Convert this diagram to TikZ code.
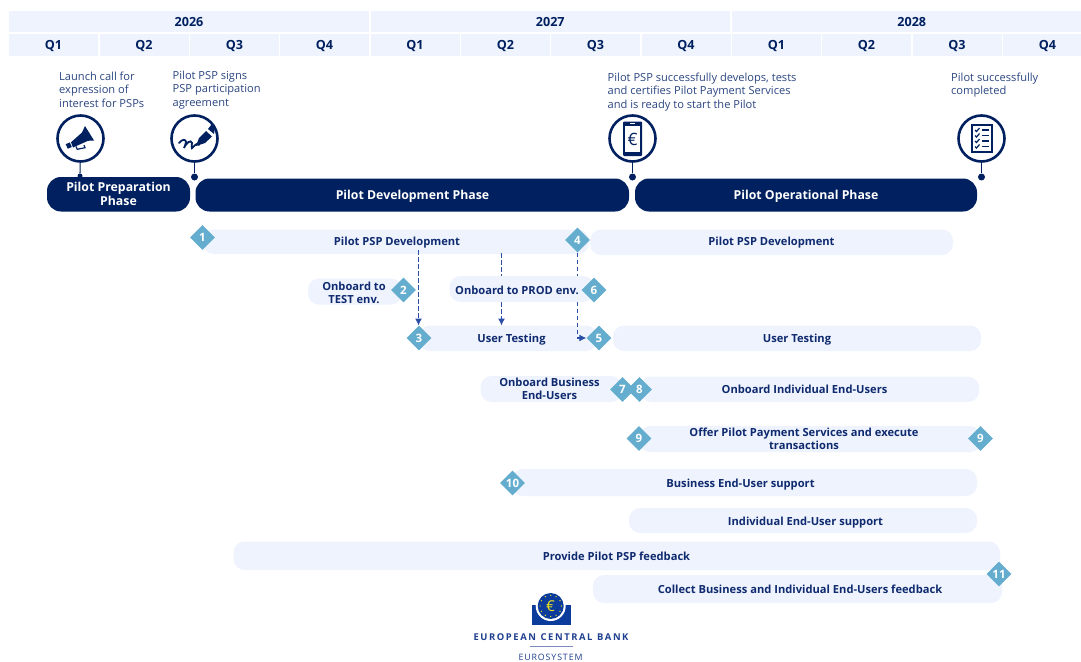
\documentclass[tikz,border=0pt]{standalone}
\usepackage{fontspec}
\setmainfont{Open Sans}
\usetikzlibrary{arrows.meta,shapes.geometric}
\definecolor{navy}{HTML}{00205F}
\definecolor{pale}{HTML}{EEF3FE}
\definecolor{teal}{HTML}{65ADCF}
\definecolor{lbl}{HTML}{0F2A6E}
\definecolor{body}{HTML}{2B4681}
\definecolor{dsh}{HTML}{2A4EA6}
\definecolor{ecb}{HTML}{0B3C9C}
\definecolor{ecbtxt}{HTML}{1F3F8F}
\definecolor{ecby}{HTML}{F2E21B}
\tikzset{
 cell/.style={inner sep=0,text=navy,font=\fontsize{12.6}{14}\selectfont\bfseries},
 note/.style={anchor=north west,align=left,inner sep=0,text=body,font=\fontsize{11.1}{13.4}\selectfont},
 bartext/.style={text=lbl,align=center,inner sep=0,font=\fontsize{11.15}{13}\selectfont\bfseries},
 phasetext/.style={text=white,align=center,inner sep=0,font=\fontsize{12.3}{14.5}\selectfont\bfseries},
 dia/.style={diamond,fill=teal,text=white,inner sep=0,minimum width=25pt,minimum height=25pt,font=\fontsize{11.5}{12}\selectfont\bfseries},
 ring/.style={circle,draw=navy,line width=2.6pt,fill=white,minimum size=46pt,inner sep=0},
 dot/.style={circle,fill=navy,minimum size=7pt,inner sep=0},
 stem/.style={draw=navy,line width=1.1pt},
 dep/.style={draw=dsh,line width=1.1pt,dash pattern=on 4.5pt off 2.5pt,-{Latex[length=7pt,width=7pt]}},
 logotext/.style={text=ecbtxt,inner sep=0},
}
\newcommand{\palebar}[5]{% name x0 x1 y0 y1
 \fill[pale,rounded corners=11pt] (#2,#4) rectangle (#3,#5);
 \coordinate (#1) at ({(#2+#3)/2},{(#4+#5)/2});}
\begin{document}
\begin{tikzpicture}[x=1pt,y=-1pt]
\useasboundingbox (0,0) rectangle (1081,661);
\clip (0,0) rectangle (1081,661);
\fill[white] (0,0) rectangle (1081,661);
% years
\foreach \n/\a/\b/\t in {y26/9/369/2026,y27/370.5/730/2027,y28/731.5/1092/2028}{
 \fill[pale] (\a,11) rectangle (\b,32);
 \node[cell] (\n) at ({(\a+\b)/2},22.3) {\t};}
% quarters
\foreach \n/\x/\t in {a/9/Q1,b/99.5/Q2,c/190/Q3,d/280/Q4,e/370.5/Q1,f/461/Q2,g/551/Q3,h/641.5/Q4,i/732/Q1,j/822/Q2,k/912.5/Q3,l/1003/Q4}{
 \fill[pale] (\x,34) rectangle ({\x+89},56);
 \node[cell] (q\n) at ({\x+44.5},45.8) {\t};}
% notes
\node[note] (n1) at (59,71.8) {Launch call for\\expression of\\interest for PSPs};
\node[note] (n2) at (172.5,70.8) {Pilot PSP signs\\PSP participation\\agreement};
\node[note] (n3) at (607.5,72.8) {Pilot PSP successfully develops, tests\\and certifies Pilot Payment Services\\and is ready to start the Pilot};
\node[note] (n4) at (951,72.8) {Pilot successfully\\completed};
% phases
\fill[navy,rounded corners=14pt] (47,177) rectangle (190,211.5);
\node[phasetext] (p1) at (118.5,194) {Pilot Preparation\\Phase};
\fill[navy,rounded corners=14pt] (195.5,178.5) rectangle (629,211.5);
\node[phasetext] (p2) at (412.5,196) {Pilot Development Phase};
\fill[navy,rounded corners=14pt] (635,178.5) rectangle (977,211.5);
\node[phasetext] (p3) at (806,196) {Pilot Operational Phase};
% milestones
\node[ring] (r1) at (80.5,138.5) {};
\node[ring] (r2) at (194.5,138.5) {};
\node[ring] (r3) at (632.5,138.5) {};
\node[ring] (r4) at (981.5,138.5) {};
\node[dot,minimum size=5pt] (d1) at (80,176) {};
\node[dot] (d2) at (194.5,177) {};
\node[dot] (d3) at (632.5,177) {};
\node[dot] (d4) at (981.5,177) {};
\foreach \i in {1,...,4} \draw[stem] (r\i) -- (d\i);
% icon: megaphone
\fill[navy] (71,142.3) -- (82,132.5) -- (85,126) -- (94,140.5) -- (88,140.8) -- (73,147.5) -- cycle;
\fill[navy] (65.7,144.2) -- (69.8,142.4) -- (71.8,147) -- (67.8,148.7) -- cycle;
\draw[navy,line width=1.2pt] (76,146.5) -- (77.3,149.3) -- (85,147.7) -- (84,145);
% icon: pen + signature
\draw[navy,line width=1.8pt,line cap=round] (179,143) .. controls (182,139) and (186,139) .. (186,142) .. controls (186,145) and (184,147) .. (184,148) .. controls (186,143) and (191,139) .. (192,143) .. controls (192,145) and (191,148) .. (192,148) .. controls (195,145) and (198,142) .. (199,145);
\fill[navy] (196,146) -- (199,138) -- (206,131) -- (212,136.5) -- (205,143) -- cycle;
\fill[navy] (208,129) -- (211.5,124.5) -- (215,127) -- (214,134) -- cycle;
% icon: phone
\fill[navy,rounded corners=1pt] (623,121.5) rectangle (642,156);
\fill[white] (625,125.5) rectangle (640,151.5);
\fill[white] (630,123) rectangle (635,124);
\node[text=navy,inner sep=0,font=\fontsize{17}{17}\selectfont] (euro) at (632.7,139) {€};
% icon: checklist
\fill[navy] (971,124) rectangle (992.5,152.5);
\fill[white] (973,126) rectangle (990.5,150.5);
\foreach \y in {130,135.5,141,146.5}{
 \draw[navy,line width=1.2pt] (975,\y) -- (976.5,{\y+1.5}) -- (979.5,{\y-2});
 \draw[navy,line width=1.4pt] (982,\y) -- (989,\y);}
% pale bars
\palebar{b1}{203}{589}{229.5}{254}
\palebar{b4}{590}{953}{229.5}{255}
\palebar{b2}{308}{402}{278.5}{304.5}
\palebar{b3}{419}{597}{325.5}{351}
\palebar{b5}{613}{981}{325.5}{351}
\palebar{b7}{480.5}{622}{376}{402}
\palebar{b8}{640}{979}{376.5}{402}
\palebar{b9}{639}{981}{426}{452}
\palebar{b10}{512}{977}{469}{496}
\palebar{b12}{629}{977}{508}{533}
\palebar{b13}{233.5}{1000}{541.5}{570}
\palebar{b14}{593}{1002}{575}{603}
% bar texts
\node[bartext] (t1) at (397,242.5) {Pilot PSP Development};
\node[bartext] (t4) at (771.5,243) {Pilot PSP Development};
\node[bartext] (t2) at (354,292.5) {Onboard to\\TEST env.};
\node[bartext] (t3) at (511.5,339.5) {User Testing};
\node[bartext] (t5) at (797,339.5) {User Testing};
\node[bartext] (t7) at (549.5,389.2) {Onboard Business\\End-Users};
\node[bartext] (t8) at (804.5,389.8) {Onboard Individual End-Users};
\node[bartext] (t9) at (804,439) {Offer Pilot Payment Services and execute\\transactions};
\node[bartext] (t10) at (740.5,484.5) {Business End-User support};
\node[bartext] (t12) at (805.5,522.5) {Individual End-User support};
\node[bartext] (t13) at (616.5,556) {Provide Pilot PSP feedback};
\node[bartext] (t14) at (800,589.5) {Collect Business and Individual End-Users feedback};
% diamonds
\node[dia] (m1) at (202.5,237.5) {1};
\node[dia] (m2) at (403.5,290) {2};
\node[dia] (m3) at (419,338) {3};
\node[dia] (m4) at (577.5,240) {4};
\node[dia] (m5) at (599,338) {5};
\node[dia] (m7) at (622.5,389.5) {7};
\node[dia] (m8) at (639.5,389.5) {8};
\node[dia] (m9a) at (639,438.5) {9};
\node[dia] (m9b) at (980.5,438.5) {9};
\node[dia] (m10) at (512.5,483) {10};
\node[dia] (m11) at (999,574) {11};
% dependencies (bar 6 lies over them)
\coordinate (s1) at (418.5,250);
\coordinate (e1) at (418.5,325.5);
\draw[dep] (s1) -- (e1);
\coordinate (s2) at (501.5,253);
\coordinate (e2) at (501.5,325.5);
\draw[dep] (s2) -- (e2);
\coordinate (c3) at (577.5,338);
\draw[dep] (m4.south) -- (c3) -- (m5.west);
\palebar{b6}{449.5}{594}{276}{302}
\node[bartext] (t6) at (517,290.3) {Onboard to PROD env.};
\node[dia] (m6) at (594,290) {6};
% logo
\fill[ecb] (531.7,605) rectangle (570.7,625);
\fill[white] (550.7,606) circle (15);
\fill[ecb] (550.7,606) circle (13);
\foreach \a in {0,30,...,330}
 \fill[ecby] ({550.7+10.7*cos(\a)},{606+10.7*sin(\a)}) circle (0.7);
\node[text=ecby,inner sep=0,font=\fontsize{15}{15}\selectfont] (logoeuro) at (550.5,606) {€};
\node[logotext,font=\fontsize{9.4}{10}\selectfont\bfseries] (lt1) at (551,637.5) {E\kern1.6pt U\kern1.6pt R\kern1.6pt O\kern1.6pt P\kern1.6pt E\kern1.6pt A\kern1.6pt N\kern4.5pt C\kern1.6pt E\kern1.6pt N\kern1.6pt T\kern1.6pt R\kern1.6pt A\kern1.6pt L\kern4.5pt B\kern1.6pt A\kern1.6pt N\kern1.6pt K};
\draw[ecbtxt!60,line width=0.8pt] (530,646.5) -- (573,646.5);
\node[logotext,font=\fontsize{8.8}{10}\selectfont] (lt2) at (550.5,657) {E\kern.9pt U\kern.9pt R\kern.9pt O\kern.9pt S\kern.9pt Y\kern.9pt S\kern.9pt T\kern.9pt E\kern.9pt M};
\end{tikzpicture}
\end{document}
